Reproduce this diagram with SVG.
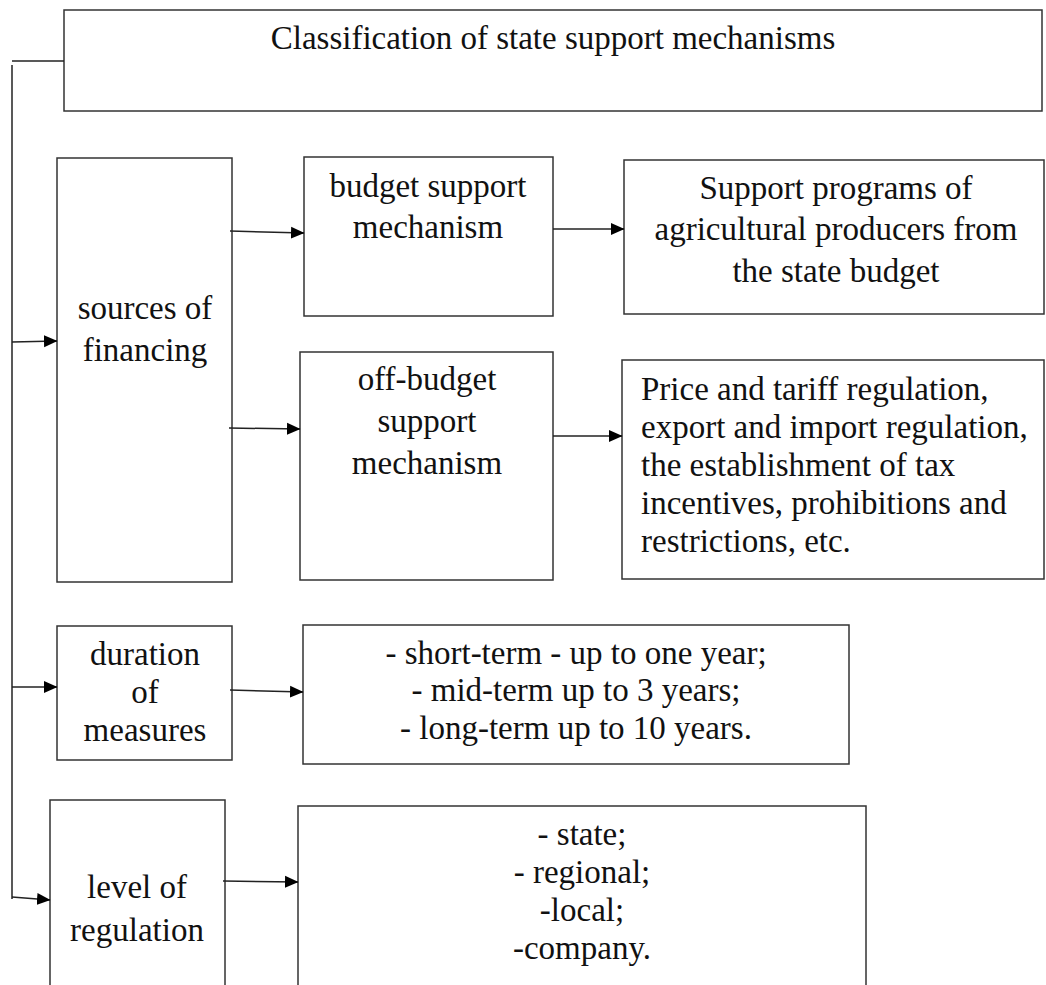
<svg xmlns="http://www.w3.org/2000/svg" width="1046" height="985" viewBox="0 0 1046 985">
<defs>
<style>
.box{fill:#fff;stroke:#333;stroke-width:1.5}
.t{font-family:"Liberation Serif","Times New Roman",serif;font-size:33px;fill:#111}
.c{text-anchor:middle}
.ln{fill:none;stroke:#222;stroke-width:1.5}
</style>
<marker id="ah" markerUnits="userSpaceOnUse" markerWidth="14" markerHeight="14" refX="13" refY="7" orient="auto">
<path d="M0,1 L13.5,7 L0,13 z" fill="#000"/>
</marker>
</defs>
<rect width="1046" height="985" fill="#fff"/>

<g id="title">
<rect class="box" x="64" y="10" width="978" height="101"/>
<text class="t c" x="553" y="49">Classification of state support mechanisms</text>
</g>

<g id="sources">
<rect class="box" x="57" y="158" width="175" height="424"/>
<text class="t c" x="145" y="319">sources of</text>
<text class="t c" x="145" y="361">financing</text>
</g>

<g id="budget">
<rect class="box" x="304" y="157" width="249" height="159"/>
<text class="t c" x="428" y="197">budget support</text>
<text class="t c" x="428" y="238">mechanism</text>
</g>

<g id="programs">
<rect class="box" x="624" y="160" width="420" height="154"/>
<text class="t c" x="836" y="199">Support programs of</text>
<text class="t c" x="836" y="240">agricultural producers from</text>
<text class="t c" x="836" y="282">the state budget</text>
</g>

<g id="offbudget">
<rect class="box" x="300" y="352" width="253" height="228"/>
<text class="t c" x="427" y="390">off-budget</text>
<text class="t c" x="427" y="432">support</text>
<text class="t c" x="427" y="474">mechanism</text>
</g>

<g id="price">
<rect class="box" x="622" y="360" width="422" height="219"/>
<text class="t" x="641" y="400">Price and tariff regulation,</text>
<text class="t" x="641" y="438">export and import regulation,</text>
<text class="t" x="641" y="476">the establishment of tax</text>
<text class="t" x="641" y="514">incentives, prohibitions and</text>
<text class="t" x="641" y="552">restrictions, etc.</text>
</g>

<g id="duration">
<rect class="box" x="57" y="626" width="175" height="134"/>
<text class="t c" x="145" y="665">duration</text>
<text class="t c" x="145" y="703">of</text>
<text class="t c" x="145" y="741">measures</text>
</g>

<g id="terms">
<rect class="box" x="303" y="625" width="546" height="139"/>
<text class="t c" x="576" y="664">- short-term - up to one year;</text>
<text class="t c" x="576" y="701">- mid-term up to 3 years;</text>
<text class="t c" x="576" y="739">- long-term up to 10 years.</text>
</g>

<g id="level">
<rect class="box" x="50" y="800" width="175" height="200"/>
<text class="t c" x="137" y="898">level of</text>
<text class="t c" x="137" y="941">regulation</text>
</g>

<g id="levels">
<rect class="box" x="298" y="806" width="568" height="200"/>
<text class="t c" x="582" y="845">- state;</text>
<text class="t c" x="582" y="883">- regional;</text>
<text class="t c" x="582" y="921">-local;</text>
<text class="t c" x="582" y="959">-company.</text>
</g>

<g id="connectors">
<line class="ln" x1="64" y1="61" x2="12" y2="61"/>
<line class="ln" x1="12" y1="65" x2="12" y2="899"/>
<line class="ln" x1="12" y1="342" x2="57" y2="341" marker-end="url(#ah)"/>
<line class="ln" x1="12" y1="687" x2="57" y2="687" marker-end="url(#ah)"/>
<line class="ln" x1="12" y1="897" x2="50" y2="900" marker-end="url(#ah)"/>
<line class="ln" x1="230" y1="231" x2="304" y2="233" marker-end="url(#ah)"/>
<line class="ln" x1="229" y1="428" x2="300" y2="429" marker-end="url(#ah)"/>
<line class="ln" x1="553" y1="229" x2="624" y2="229" marker-end="url(#ah)"/>
<line class="ln" x1="553" y1="436" x2="622" y2="436" marker-end="url(#ah)"/>
<line class="ln" x1="230" y1="690" x2="303" y2="692" marker-end="url(#ah)"/>
<line class="ln" x1="223" y1="881" x2="298" y2="882" marker-end="url(#ah)"/>
</g>
</svg>
